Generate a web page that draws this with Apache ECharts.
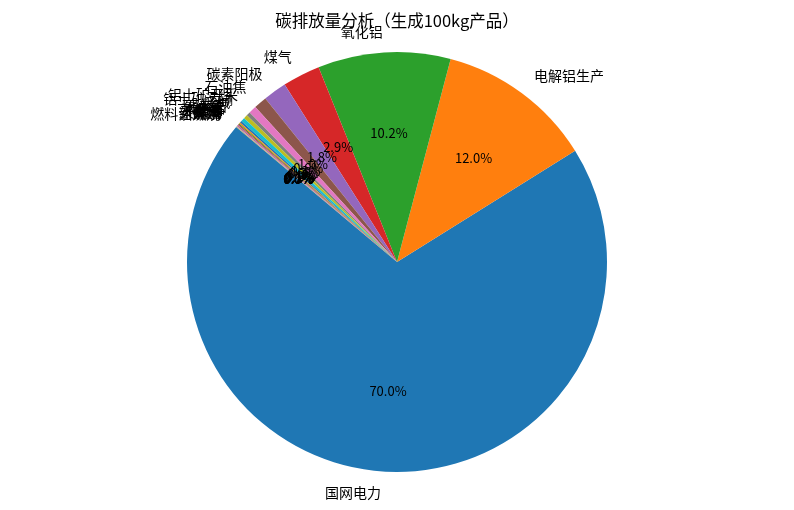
<!DOCTYPE html>
<html>
<head>
<meta charset="utf-8">
<script src="https://cdn.jsdelivr.net/npm/echarts@6/dist/echarts.min.js"></script>
<style>
  html, body { margin: 0; padding: 0; background: #fff; }
  #chart { width: 794px; height: 510px; }
</style>
</head>
<body>
<div id="chart"></div>
<script>
// 碳排放量各来源（占比 %）
var sources = ['国网电力', '电解铝生产', '氧化铝', '煤气', '碳素阳极', '石油焦',
    '铝土矿开采', '铝土矿运输', '烧碱', '石灰石', '氟化铝', '冰晶石', '沥青',
    '柴油', '天然气', '蒸汽', '新鲜水', '硫酸', '燃料油燃烧'];
var shares = [70.0, 12.0, 10.2, 2.9, 1.8, 1.0, 0.6, 0.3, 0.3, 0.3,
    0.15, 0.1, 0.08, 0.07, 0.06, 0.05, 0.04, 0.03, 0.02];
var colors = ['#1f77b4', '#ff7f0e', '#2ca02c', '#d62728', '#9467bd',
    '#8c564b', '#e377c2', '#7f7f7f', '#bcbd22', '#17becf'];

var dom = document.getElementById('chart');
var myChart = echarts.init(dom);

var total = shares.reduce(function (a, b) { return a + b; }, 0);
var pieData = sources.map(function (n, i) {
    return { name: n, value: shares[i] };
});
var font = '"Noto Sans CJK SC", "DejaVu Sans", sans-serif';

var option = {
    animation: false,
    color: colors,
    title: {
        text: '碳排放量分析（生成100kg产品）',
        left: 'center',
        top: 7,
        textStyle: { fontSize: 16.5, fontWeight: 'normal', color: '#000', fontFamily: font }
    },
    series: [
        {
            type: 'pie',
            center: [397, 262],
            radius: 210,
            startAngle: 140,
            clockwise: false,
            avoidLabelOverlap: false,
            itemStyle: { borderWidth: 0 },
            label: {
                show: true,
                position: 'outside',
                color: '#000',
                fontSize: 14,
                fontFamily: font,
                distanceToLabelLine: 0
            },
            labelLine: { show: false, length: 21, length2: 0 },
            labelLayout: { hideOverlap: false },
            data: pieData
        },
        {
            // 百分比标签（位于 0.6 倍半径处）
            type: 'pie',
            center: [397, 262],
            radius: 252,
            startAngle: 140,
            clockwise: false,
            avoidLabelOverlap: false,
            silent: true,
            itemStyle: { color: 'rgba(0,0,0,0)', borderWidth: 0 },
            label: {
                show: true,
                position: 'inside',
                color: '#000',
                fontSize: 13,
                fontFamily: font,
                formatter: function (p) {
                    return (p.value / total * 100).toFixed(1) + '%';
                }
            },
            labelLine: { show: false },
            labelLayout: { hideOverlap: false },
            data: pieData
        }
    ]
};
myChart.setOption(option, true);
</script>
</body>
</html>
